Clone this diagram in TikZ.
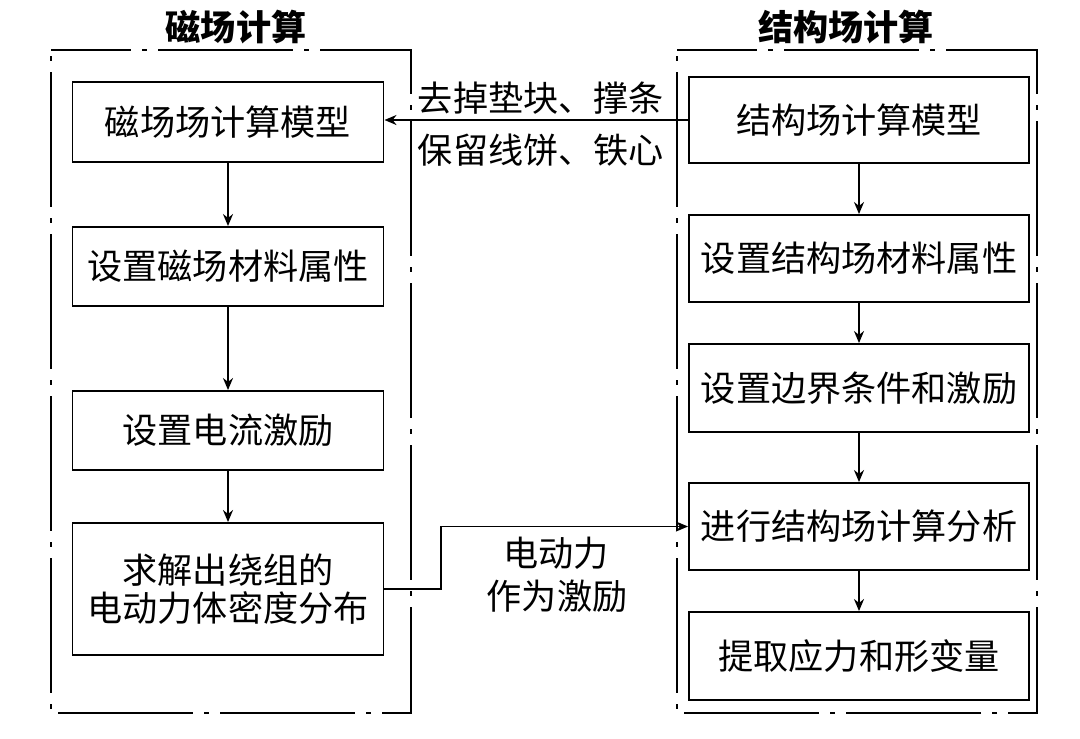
\documentclass[tikz,border=0pt]{standalone}
\usepackage{fontspec}
\setmainfont{Noto Sans CJK SC}
\usetikzlibrary{arrows.meta}

\begin{document}
\begin{tikzpicture}[x=0.2mm,y=-0.2mm,
    box/.style={draw,line width=1.1pt,inner sep=0pt,align=center,font=\fontsize{20}{22}\selectfont},
    lbox/.style={box,minimum width=62.2mm},
    rbox/.style={box,minimum width=68mm},
    lab/.style={font=\fontsize{20}{22}\selectfont},
    ttl/.style={font=\fontsize{20}{22}\selectfont\bfseries},
    frm/.style={line width=1.1pt,dash pattern=on 27mm off 2.2mm on 1mm off 2.2mm,dash phase=11mm},
    arr/.style={line width=1.1pt,-{Stealth[length=2.4mm,width=2mm]}}]
          \useasboundingbox (0,0) rectangle (1080,738);
          % magnetic field side
          \draw[frm] (51,50) -- (411,50) -- (411,713) -- (51,713) -- cycle;
          \node[ttl] (ctitle) at (236,27) {磁场计算};
          \node[lbox,minimum height=16mm] (cmod) at (228,122) {磁场场计算模型};
          \node[lbox,minimum height=15.8mm] (cmat) at (228,266.5) {设置磁场材料属性};
          \node[lbox,minimum height=15.8mm] (ccur) at (228,430.5) {设置电流激励};
          \node[lbox,minimum height=26.4mm] (cforce) at (228,589) {求解出绕组的\\电动力体密度分布};
          % structural field side
          \draw[frm] (677,50) -- (1037,50) -- (1037,713) -- (677,713) -- cycle;
          \node[ttl] (stitle) at (846,27) {结构场计算};
          \node[rbox,minimum height=17.2mm] (smod) at (859,120) {结构场计算模型};
          \node[rbox,minimum height=17.4mm] (smat) at (859,258.5) {设置结构场材料属性};
          \node[rbox,minimum height=17.6mm] (sbnd) at (859,388) {设置边界条件和激励};
          \node[rbox,minimum height=17.4mm] (sana) at (859,526.5) {进行结构场计算分析};
          \node[rbox,minimum height=17.6mm] (sout) at (859,656) {提取应力和形变量};
          % flow inside each frame
          \foreach \a/\b in {cmod/cmat,cmat/ccur,ccur/cforce,smod/smat,smat/sbnd,sbnd/sana,sana/sout}
            \draw[arr] (\a.south) -- (\b.north);
          % links between the two sides
          \draw[arr] (smod.west) -- (smod.west -| cmod.east);
          \node[lab] (cut) at (541,98) {去掉垫块、撑条};
          \node[lab] (keep) at (541,150) {保留线饼、铁心};
          \coordinate (bend) at (441,0);
          \draw[arr] (cforce.east) -- (bend |- cforce.east) |- (sana.west);
          \node[lab] (force) at (556,553) {电动力};
          \node[lab] (excite) at (557,596) {作为激励};
\end{tikzpicture}
\end{document}
